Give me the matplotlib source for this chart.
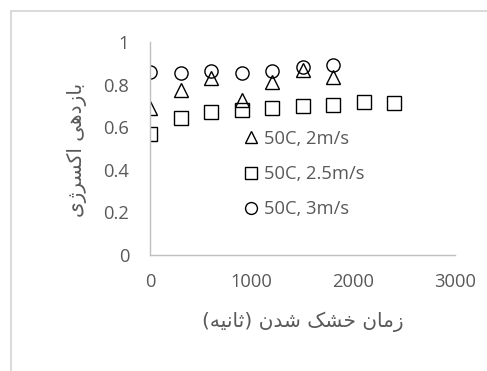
import matplotlib
matplotlib.use("Agg")
import matplotlib.pyplot as plt
from matplotlib.lines import Line2D

# ---- data -------------------------------------------------------------
time_s = [0, 300, 600, 900, 1200, 1500, 1800, 2100, 2400]

eff_2ms = [0.69, 0.775, 0.83, 0.728, 0.814, 0.869, 0.834]
eff_25ms = [0.568, 0.642, 0.670, 0.681, 0.689, 0.700, 0.704, 0.720, 0.715]
eff_3ms = [0.860, 0.853, 0.865, 0.853, 0.865, 0.884, 0.892]

series_labels = ["50C, 2m/s", "50C, 2.5m/s", "50C, 3m/s"]

x_ticks = [0, 1000, 2000, 3000]
y_ticks = [0, 0.2, 0.4, 0.6, 0.8, 1.0]
y_tick_labels = ["0", "0.2", "0.4", "0.6", "0.8", "1"]

x_title = "زمان خشک شدن (ثانیه)"
y_title = "بازدهی اکسرژی"

# ---- minimal Persian shaping (presentation forms + visual order) ------
# (isolated, final, initial, medial); right-joining letters have no ini/med
FORMS = {
    "ا": ("\uFE8D", "\uFE8E", None, None),
    "ب": ("\uFE8F", "\uFE90", "\uFE91", "\uFE92"),
    "ث": ("\uFE99", "\uFE9A", "\uFE9B", "\uFE9C"),
    "خ": ("\uFEA5", "\uFEA6", "\uFEA7", "\uFEA8"),
    "د": ("\uFEA9", "\uFEAA", None, None),
    "ر": ("\uFEAD", "\uFEAE", None, None),
    "ز": ("\uFEAF", "\uFEB0", None, None),
    "ژ": ("\uFB8A", "\uFB8B", None, None),
    "س": ("\uFEB1", "\uFEB2", "\uFEB3", "\uFEB4"),
    "ش": ("\uFEB5", "\uFEB6", "\uFEB7", "\uFEB8"),
    "ک": ("\uFB8E", "\uFB8F", "\uFB90", "\uFB91"),
    "م": ("\uFEE1", "\uFEE2", "\uFEE3", "\uFEE4"),
    "ن": ("\uFEE5", "\uFEE6", "\uFEE7", "\uFEE8"),
    "ه": ("\uFEE9", "\uFEEA", "\uFEEB", "\uFEEC"),
    "ی": ("\uFBFC", "\uFBFD", "\uFBFE", "\uFBFF"),
}


def shape_rtl(text):
    out = []
    n = len(text)
    for i, ch in enumerate(text):
        if ch not in FORMS:
            out.append(ch)
            continue
        iso, fin, ini, med = FORMS[ch]
        prev = text[i - 1] if i > 0 else ""
        nxt = text[i + 1] if i + 1 < n else ""
        join_prev = prev in FORMS and FORMS[prev][2] is not None
        join_next = ini is not None and nxt in FORMS
        if join_prev and join_next:
            out.append(med)
        elif join_prev:
            out.append(fin)
        elif join_next:
            out.append(ini)
        else:
            out.append(iso)
    vis = "".join(reversed(out))
    return vis.translate(str.maketrans("()", ")("))


# ---- figure -----------------------------------------------------------
W, H = 487, 371
fig = plt.figure(figsize=(W / 100, H / 100), dpi=100)
fig.patch.set_facecolor("white")

ax = fig.add_axes([150 / W, (H - 255) / H, (455 - 150) / W, (255 - 42) / H])

text_gray = "#595959"
axis_gray = "#bfbfbf"
num_font = "Open Sans"

mk = dict(linestyle="none", markerfacecolor="none", markeredgecolor="black",
          markersize=9.5, markeredgewidth=1.0)
ax.plot(time_s[:len(eff_2ms)], eff_2ms, marker="^", label=series_labels[0], **mk)
ax.plot(time_s[:len(eff_25ms)], eff_25ms, marker="s", label=series_labels[1], **mk)
ax.plot(time_s[:len(eff_3ms)], eff_3ms, marker="o", label=series_labels[2], **mk)

ax.set_xlim(0, 3000)
ax.set_ylim(0, 1)
ax.set_xticks(x_ticks)
ax.set_xticklabels([str(v) for v in x_ticks])
ax.set_yticks(y_ticks)
ax.set_yticklabels(y_tick_labels)
ax.tick_params(length=0, labelsize=13.2, colors=text_gray)
ax.tick_params(axis="x", pad=13)
ax.tick_params(axis="y", pad=15)
for lab in ax.get_xticklabels() + ax.get_yticklabels():
    lab.set_fontfamily(num_font)

for side in ("top", "right"):
    ax.spines[side].set_visible(False)
for side in ("left", "bottom"):
    ax.spines[side].set_color(axis_gray)
    ax.spines[side].set_linewidth(1.0)

# axis titles
fig.text(303 / W, 1 - 322 / H, shape_rtl(x_title), ha="center", va="center",
         fontsize=14.5, color=text_gray, family="DejaVu Sans")
fig.text(77 / W, 1 - 150 / H, shape_rtl(y_title), ha="center", va="center",
         rotation=90, fontsize=14.5, color=text_gray, family="DejaVu Sans")

# legend inside the plot area
leg = ax.legend(loc="center left", bbox_to_anchor=(234 / W, 1 - 174 / H),
                bbox_transform=fig.transFigure, frameon=False, borderpad=0,
                handlelength=0.8, handletextpad=0.35, labelspacing=0.95,
                markerscale=0.9, prop={"family": num_font, "size": 13.2})
for t in leg.get_texts():
    t.set_color(text_gray)

# light chart-area frame
frame_kw = dict(color="#d9d9d9", linewidth=1.4, transform=fig.transFigure)
fig.add_artist(Line2D([11 / W, 1.0], [1 - 11 / H, 1 - 11 / H], **frame_kw))
fig.add_artist(Line2D([11 / W, 11 / W], [0.0, 1 - 11 / H], **frame_kw))

fig.savefig("out.png", dpi=100)
